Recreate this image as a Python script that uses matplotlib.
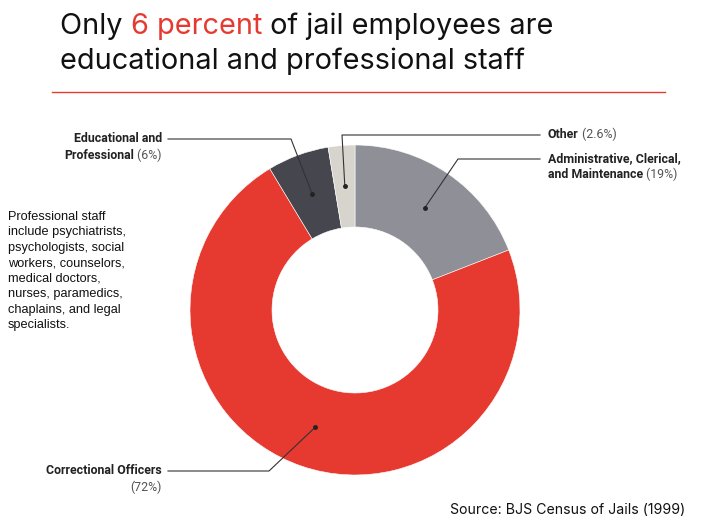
import matplotlib.pyplot as plt
import numpy as np

# data
categories = ["Administrative, Clerical,\nand Maintenance", "Correctional Officers",
              "Educational and\nProfessional", "Other"]
shares = [19, 72, 6, 2.6]
share_labels = ["(19%)", "(72%)", "(6%)", "(2.6%)"]
colors = ["#8f8f97", "#e63a30", "#45464e", "#d6d4cd"]

RED = "#e63a30"
TITLE_FONT = "Inter"
LABEL_FONT = "Roboto"

fig = plt.figure(figsize=(7.21, 5.24), dpi=100)
ax = fig.add_axes([0, 0, 1, 1])

cx, cy, r_out, r_in = 355, 310, 165, 83
wedges, _ = ax.pie(shares, colors=colors, startangle=-90, counterclock=True,
                   center=(cx, cy), radius=r_out,
                   wedgeprops=dict(width=r_out - r_in, edgecolor="white", linewidth=0.4))
ax.set_xlim(0, 721)
ax.set_ylim(524, 0)
ax.set_aspect("equal")
ax.axis("off")

# title with a red fragment
TS = 20.8
t = ax.text(60, 34, "Only ", fontsize=TS, family=TITLE_FONT, color="#111111", va="baseline")
t = ax.annotate("6 percent", xy=(1, 0), xycoords=t, fontsize=TS, family=TITLE_FONT,
                color=RED, va="bottom")
t = ax.annotate(" of jail employees are", xy=(1, 0), xycoords=t, fontsize=TS,
                family=TITLE_FONT, color="#111111", va="bottom")
ax.text(60, 69, "educational and professional staff", fontsize=TS, family=TITLE_FONT,
        color="#111111", va="baseline")
ax.plot([52, 665], [92, 92], color=RED, lw=1)

# leader lines: elbow point and label position per slice
elbows = [(458, 159), (269, 471), (291, 139), (342, 135)]
ends = [540, 168, 168, 540]
r_dot = (r_out + r_in) / 2
angles = np.array([(w.theta1 + w.theta2) / 2 for w in wedges])
for i, w in enumerate(wedges):
    a = np.deg2rad(angles[i])
    dx, dy = cx + r_dot * np.cos(a), cy + r_dot * np.sin(a)
    ex, ey = elbows[i]
    ax.plot([dx, ex, ends[i]], [dy, ey, ey], color="#333333", lw=0.8)
    ax.plot(dx, dy, "o", color="#222222", ms=2.5)

LS = 8.9


def label(lines, x, y, ha, dy=16):
    # each line: (bold part, regular part)
    for k, (b, reg) in enumerate(lines):
        yy = y + k * dy
        if ha == "left":
            tb = ax.text(x, yy, b, fontsize=LS, family=LABEL_FONT, weight="bold",
                         color="#222222", va="center", ha="left")
            if reg:
                ax.annotate(reg, xy=(1, 0), xycoords=tb, fontsize=LS, family=LABEL_FONT,
                            color="#555555", va="bottom", ha="left")
        else:
            if reg:
                tr = ax.text(x, yy, reg, fontsize=LS, family=LABEL_FONT, color="#555555",
                             va="center", ha="right")
                if b:
                    ax.annotate(b, xy=(0, 0), xycoords=tr, fontsize=LS, family=LABEL_FONT,
                                weight="bold", color="#222222", va="bottom", ha="right")
            else:
                ax.text(x, yy, b, fontsize=LS, family=LABEL_FONT, weight="bold",
                        color="#222222", va="center", ha="right")


adm = categories[0].split("\n")
label([(adm[0], ""), (adm[1], " " + share_labels[0])], 548, 159, "left")
label([(categories[3], " " + share_labels[3])], 548, 135, "left")
edu = categories[2].split("\n")
label([(edu[0], ""), (edu[1], " " + share_labels[2])], 162, 139, "right")
label([(categories[1], ""), ("", share_labels[1])], 162, 471, "right")

ax.text(8, 211, "Professional staff\ninclude psychiatrists,\npsychologists, social\n"
        "workers, counselors,\nmedical doctors,\nnurses, paramedics,\n"
        "chaplains, and legal\nspecialists.",
        fontsize=9.2, family="Liberation Sans", color="#111111", va="top", ha="left",
        linespacing=1.38)

ax.text(685, 510, "Source: BJS Census of Jails (1999)", fontsize=10.2, family=TITLE_FONT,
        color="#111111", va="center", ha="right")

fig.savefig("out.png", dpi=100)
